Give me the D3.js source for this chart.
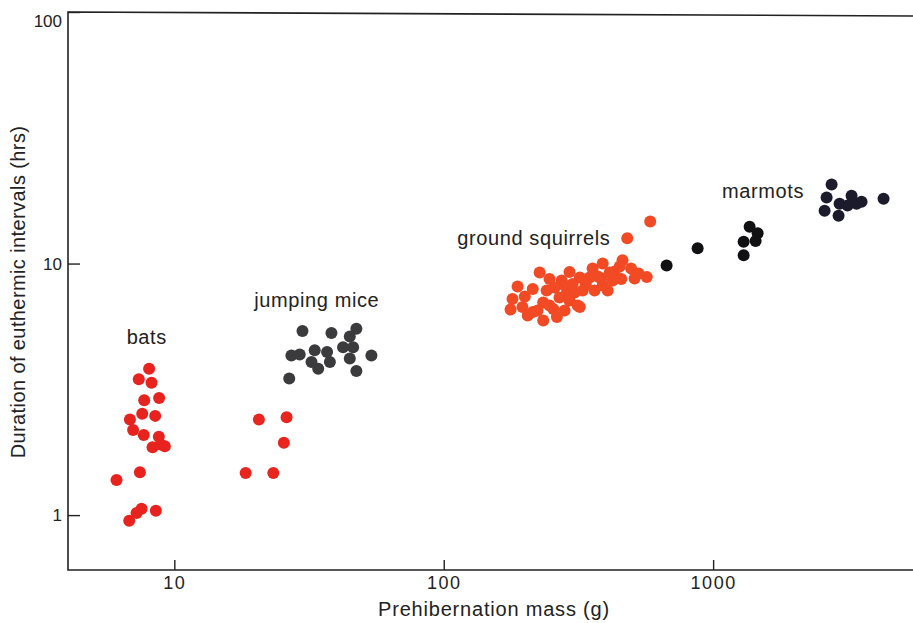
<!DOCTYPE html>
<html>
<head>
<meta charset="utf-8">
<script src="https://cdn.jsdelivr.net/npm/d3@7"></script>
<style>
  body { margin: 0; background: #fff; }
  svg { display: block; }
  text { font-family: "Liberation Sans", Arial, Helvetica, sans-serif; fill: #222; }
</style>
</head>
<body>
<div id="chart"></div>
<script>
// prehibernation mass (g) vs duration of euthermic intervals (hrs)
const bats = [
  [8.06, 3.82], [7.38, 3.47], [8.23, 3.36], [7.73, 2.86], [8.78, 2.92],
  [7.60, 2.53], [8.49, 2.48], [6.84, 2.40], [7.03, 2.18], [7.70, 2.08],
  [8.76, 2.05], [8.30, 1.86], [9.22, 1.88], [8.89, 1.91], [7.45, 1.48],
  [6.10, 1.38], [8.54, 1.04], [7.56, 1.06], [7.24, 1.02], [6.80, 0.95]
];
const batsLarge = [
  [20.6, 2.40], [26.1, 2.45], [25.5, 1.94], [18.4, 1.47], [23.3, 1.47]
];
const jumpingMice = [
  [29.9, 5.39], [38.3, 5.29], [47.4, 5.51], [44.8, 5.13], [27.2, 4.31],
  [29.2, 4.35], [33.2, 4.52], [36.9, 4.45], [32.3, 4.06], [37.8, 4.06],
  [34.2, 3.82], [42.3, 4.65], [46.1, 4.65], [44.8, 4.19], [53.9, 4.31],
  [47.4, 3.74], [26.7, 3.49]
];
const groundSquirrels = [
  [584, 14.7], [480, 12.6], [461, 10.3], [389, 10.0], [431, 9.30],
  [496, 9.55], [567, 8.84], [529, 9.13], [357, 9.55], [348, 8.80],
  [293, 9.25], [320, 8.80], [301, 8.29], [274, 8.56], [258, 8.03],
  [227, 9.21], [247, 8.68], [389, 8.18], [424, 8.56], [363, 7.81],
  [328, 7.81], [286, 7.60], [320, 6.72], [269, 7.33], [241, 7.81],
  [214, 7.92], [188, 8.10], [180, 7.23], [196, 6.72], [177, 6.57],
  [214, 6.42], [234, 5.94], [255, 6.60], [234, 7.00], [293, 7.13],
  [263, 6.13], [205, 6.22], [223, 6.51], [314, 6.81], [281, 8.18],
  [384, 8.72], [456, 8.68], [413, 9.21], [337, 8.25], [306, 7.67],
  [406, 7.81], [200, 7.40], [247, 6.81], [450, 9.73], [511, 8.72],
  [373, 8.88], [281, 6.51]
];
const marmotsSmall = [
  [672, 9.82], [876, 11.5],
  [1366, 14.0], [1463, 13.2], [1298, 12.2], [1438, 12.3], [1298, 10.8]
];
const marmots = [
  [2753, 20.6], [2638, 18.3], [3265, 18.6], [2593, 16.2], [2922, 15.5],
  [3156, 17.0], [3556, 17.6], [4292, 18.1], [2947, 17.3], [3407, 17.3]
];

const groupLabels = [
  { text: "bats", x: 7.9, y: 4.81 },
  { text: "jumping mice", x: 33.8, y: 6.69 },
  { text: "ground squirrels", x: 216, y: 11.8 },
  { text: "marmots", x: 1532, y: 18.3 }
];

const xTicks = [10, 100, 1000];
const yTicks = [1, 10, 100];

const width = 913, height = 623;
const margin = { top: 12, right: 0, bottom: 53, left: 68 };

const svg = d3.select("#chart").append("svg")
  .attr("width", width)
  .attr("height", height);

const x = d3.scaleLog()
  .domain([4.03, 5520])
  .range([margin.left, width - margin.right]);

const y = d3.scaleLog()
  .domain([0.605, 100])
  .range([height - margin.bottom, margin.top]);

// frame: left, top, bottom
svg.append("path")
  .attr("d", `M${width},${margin.top + 4}L${margin.left},${margin.top}V${height - margin.bottom}H${width}`)
  .attr("fill", "none")
  .attr("stroke", "#222")
  .attr("stroke-width", 1.6);

// x axis, ticks pointing inward
const xAxis = svg.append("g")
  .attr("transform", `translate(0,${height - margin.bottom})`)
  .call(d3.axisTop(x).tickValues(xTicks).tickSize(10).tickFormat(d3.format("d")));
xAxis.select(".domain").remove();
xAxis.selectAll(".tick line").attr("stroke", "#222").attr("stroke-width", 1.4);
xAxis.selectAll(".tick text")
  .attr("y", 6)
  .attr("dy", "0.71em")
  .style("font-size", "18px")
  .style("letter-spacing", "1.5px")
  .attr("fill", "#222");

// y axis, ticks pointing inward
const yAxis = svg.append("g")
  .attr("transform", `translate(${margin.left},0)`)
  .call(d3.axisRight(y).tickValues(yTicks).tickSize(12).tickFormat(d3.format("d")));
yAxis.select(".domain").remove();
yAxis.selectAll(".tick line").attr("stroke", "#222").attr("stroke-width", 1.4);
yAxis.selectAll(".tick text")
  .attr("x", -6)
  .attr("text-anchor", "end")
  .style("font-size", "17px")
  .attr("fill", "#222");
yAxis.selectAll(".tick").filter(d => d === 100).select("text").attr("dy", "0.85em");

// points
const groups = [
  { data: bats, color: "#e8231e" },
  { data: batsLarge, color: "#e8261f" },
  { data: jumpingMice, color: "#3b3b3d" },
  { data: groundSquirrels, color: "#f24a24" },
  { data: marmotsSmall, color: "#111114" },
  { data: marmots, color: "#1b1b2c" }
];

groups.forEach(g => {
  svg.append("g")
    .selectAll("circle")
    .data(g.data)
    .join("circle")
    .attr("cx", d => x(d[0]))
    .attr("cy", d => y(d[1]))
    .attr("r", 6)
    .attr("fill", g.color);
});

// group labels
svg.append("g")
  .selectAll("text")
  .data(groupLabels)
  .join("text")
  .attr("x", d => x(d.x))
  .attr("y", d => y(d.y))
  .attr("text-anchor", "middle")
  .style("font-size", "20px")
  .style("letter-spacing", "0.6px")
  .text(d => d.text);

// axis titles
svg.append("text")
  .attr("x", 494)
  .attr("y", 616)
  .attr("text-anchor", "middle")
  .style("font-size", "20px")
  .style("letter-spacing", "0.8px")
  .text("Prehibernation mass (g)");

svg.append("text")
  .attr("transform", "translate(25,292) rotate(-90)")
  .attr("text-anchor", "middle")
  .style("font-size", "20px")
  .style("letter-spacing", "0.4px")
  .text("Duration of euthermic intervals (hrs)");
</script>
</body>
</html>
